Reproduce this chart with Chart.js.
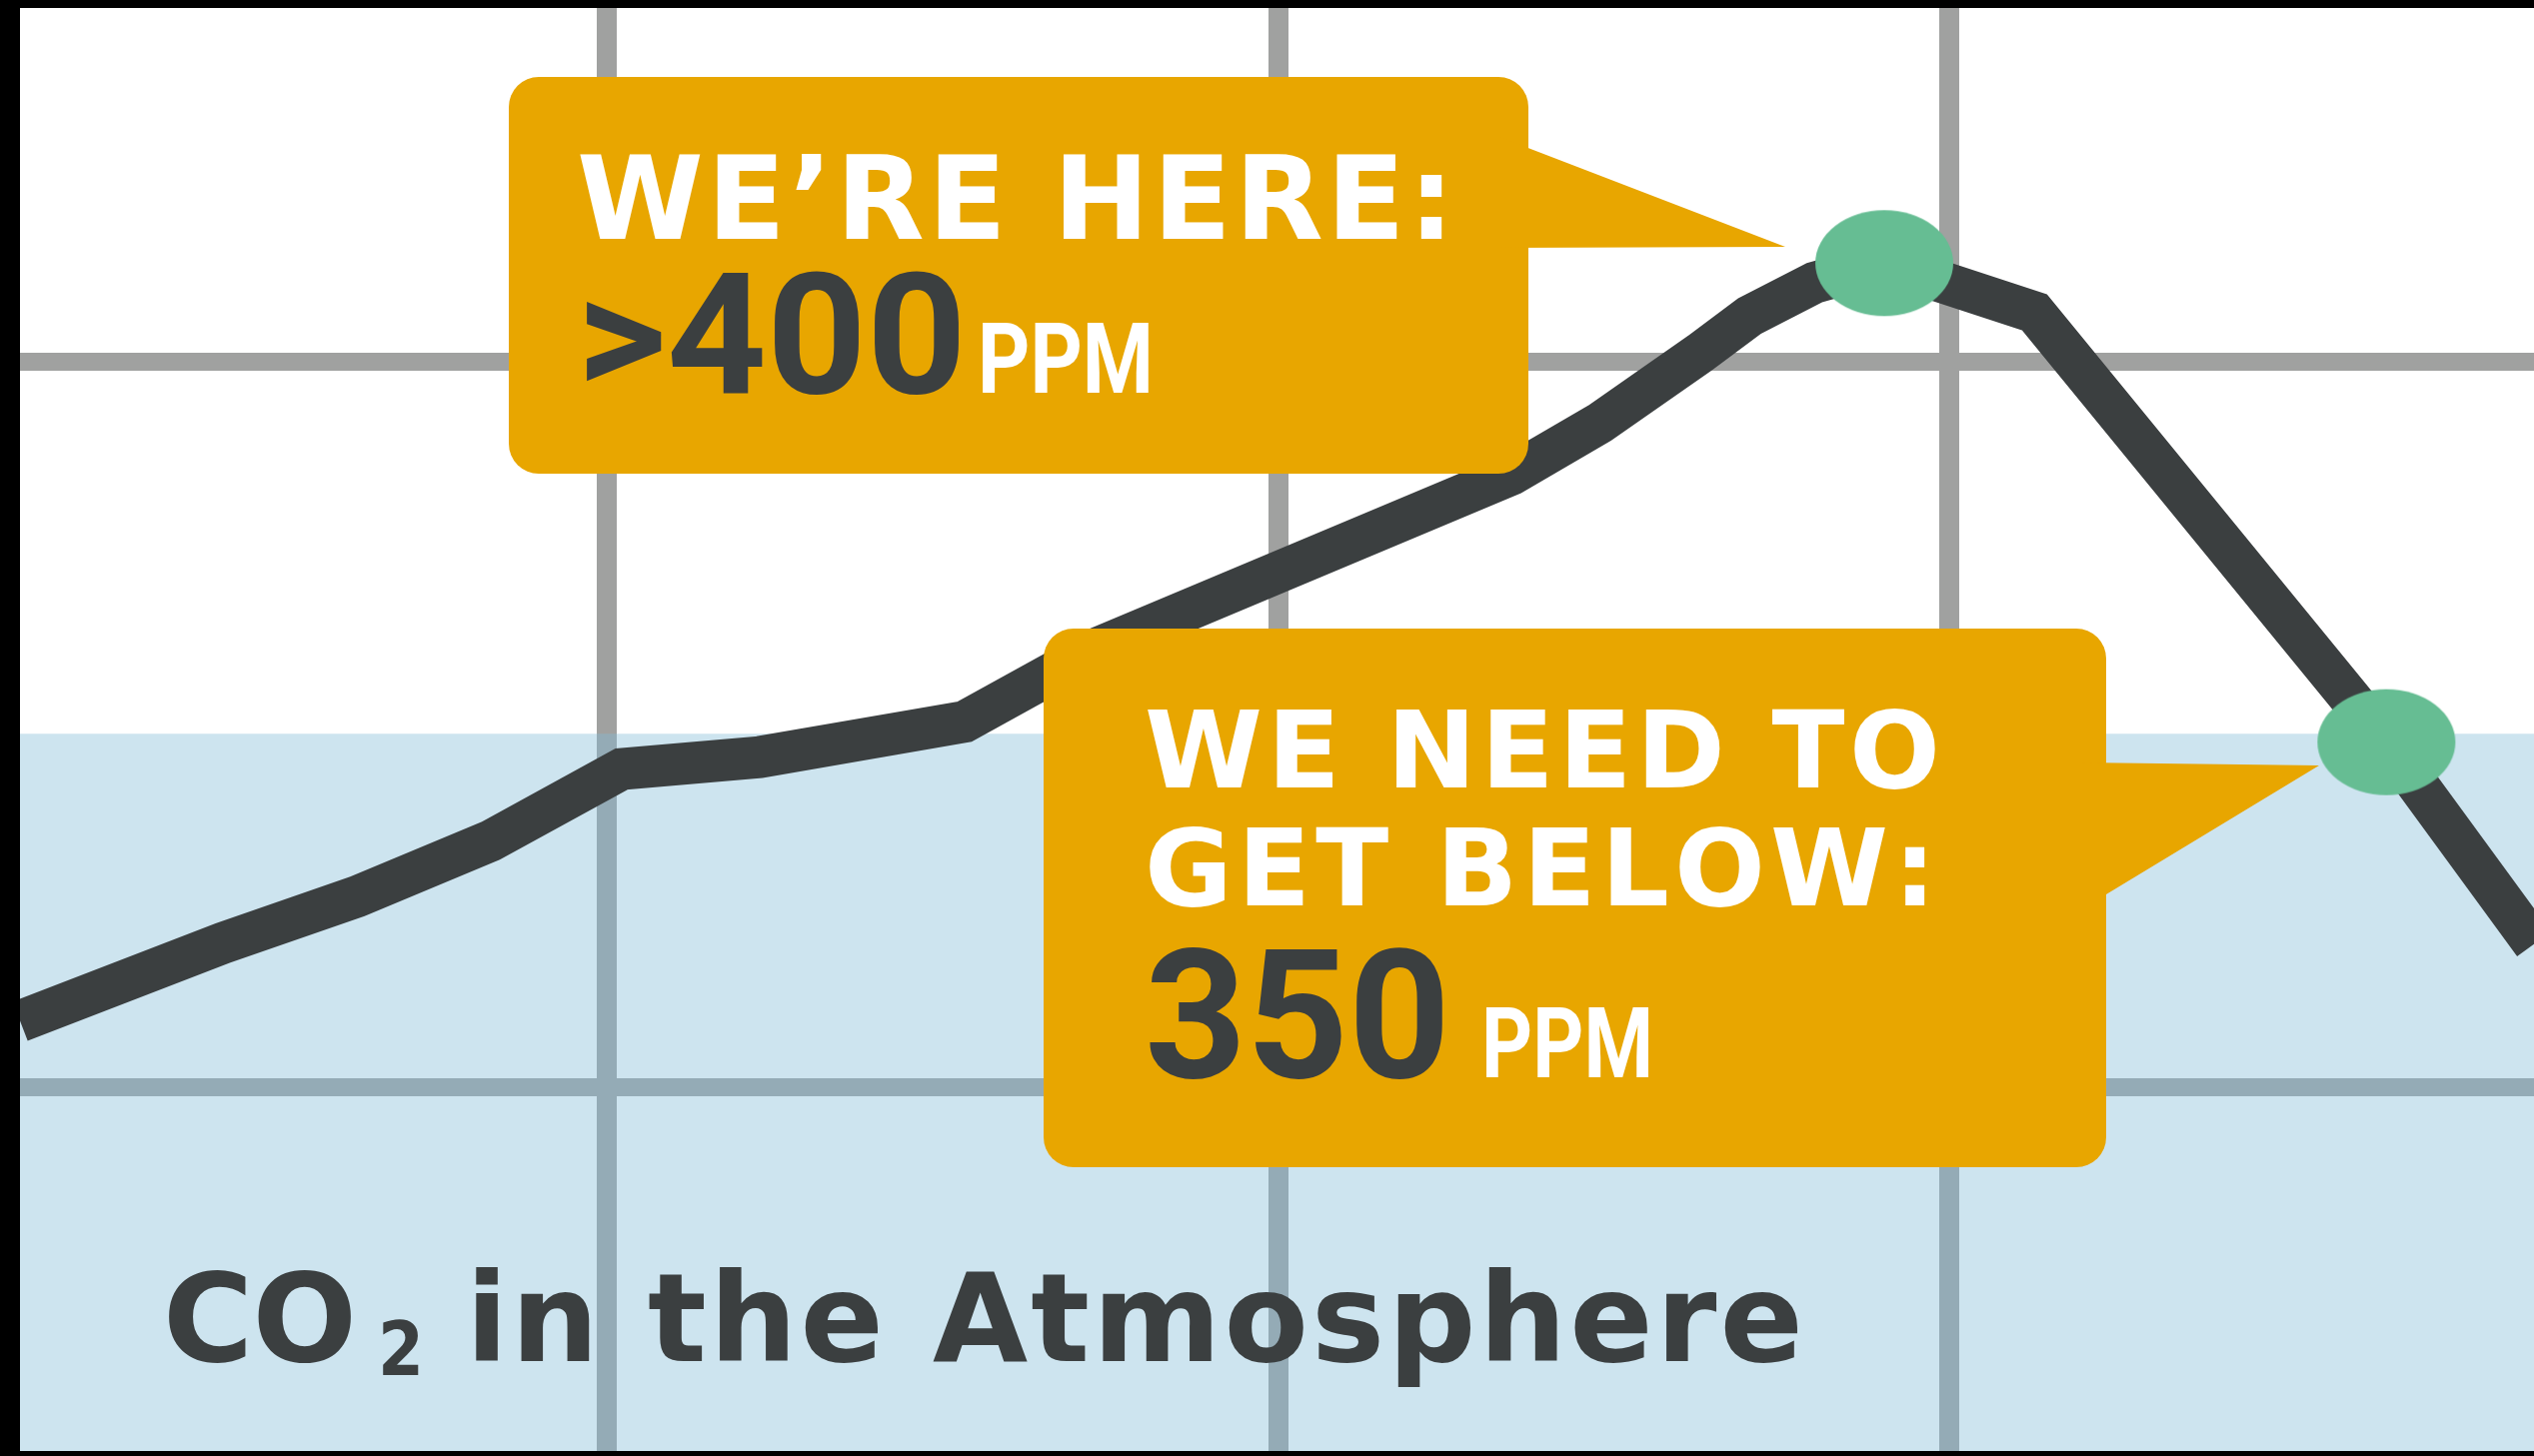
<!DOCTYPE html>
<html>
<head>
<meta charset="utf-8">
<script src="https://cdn.jsdelivr.net/npm/chart.js@4.4.1/dist/chart.umd.min.js"></script>
<style>
  html, body { margin: 0; padding: 0; background: #000; }
  canvas { display: block; }
</style>
</head>
<body>
<canvas id="co2Chart" width="2535" height="1457"></canvas>
<script>
// time position (arbitrary units, gridlines at 1, 2, 3) and CO2 in ppm
const xs  = [0.126, 0.428, 0.628, 0.827, 1.022, 1.228, 1.533, 1.734, 2.348, 2.479, 2.628, 2.702, 2.799, 2.903, 3.127, 3.651, 3.871]
const ppm = [319.1, 327.5, 332.5, 338.5, 346.2, 347.5, 351.3, 359.3, 377.9, 383.4, 390.9, 394.9, 398.5, 400.6, 395.3, 349.1, 327.4]

const markerX = [2.903, 3.651]
const markerY = [400.6, 349.1]

const safeLevel = 350
const gridX = [1, 2, 3]
const gridY = [312, 390]

const xRange = [0.1258, 3.8709]
const yRange = [272.89, 428.03]

const dark = '#3b3f40'
const orange = '#e8a600'
const green = '#66bd93'

// ellipse used as point style for the two markers
const dot = document.createElement('canvas')
dot.width = 140
dot.height = 108
let dctx = dot.getContext('2d')
dctx.fillStyle = green
dctx.beginPath()
dctx.ellipse(70, 54, 69, 53, 0, 0, Math.PI * 2)
dctx.fill()

const roundBox = (ctx, x, y, w, h, r) => {
    ctx.beginPath()
    ctx.moveTo(x + r, y)
    ctx.arcTo(x + w, y, x + w, y + h, r)
    ctx.arcTo(x + w, y + h, x, y + h, r)
    ctx.arcTo(x, y + h, x, y, r)
    ctx.arcTo(x, y, x + w, y, r)
    ctx.closePath()
    ctx.fill()
}

// spread letters so the text fills a given width
const spacedText = (ctx, text, x, y, width) => {
    let chars = text.split('')
    let widths = chars.map(c => ctx.measureText(c).width)
    let total = widths.reduce((a, b) => a + b, 0)
    let gap = chars.length > 1 ? (width - total) / (chars.length - 1) : 0
    chars.forEach((c, i) => {
        ctx.fillText(c, x, y)
        x += widths[i] + gap
    })
}

// squeeze text horizontally so it fills a given width
const squeezedText = (ctx, text, x, y, width) => {
    let w = ctx.measureText(text).width
    ctx.save()
    ctx.translate(x, y)
    ctx.scale(width / w, 1)
    ctx.fillText(text, 0, 0)
    ctx.restore()
}

const frame = {
    id: 'frame',
    beforeDraw(chart) {
        let { ctx, chartArea: a } = chart
        ctx.save()
        ctx.fillStyle = '#000'
        ctx.fillRect(0, 0, chart.width, chart.height)
        ctx.fillStyle = '#fff'
        ctx.fillRect(a.left, a.top, a.right - a.left, a.bottom - a.top)
        ctx.restore()
    }
}

const labels = {
    id: 'labels',
    afterDatasetsDraw(chart) {
        let ctx = chart.ctx
        ctx.save()
        ctx.textBaseline = 'alphabetic'

        // title
        ctx.fillStyle = dark
        ctx.font = 'bold 123px "DejaVu Sans"'
        spacedText(ctx, 'CO', 163, 1362, 194)
        ctx.font = 'bold 74px "DejaVu Sans"'
        squeezedText(ctx, '2', 378, 1376, 46)
        ctx.font = 'bold 123px "DejaVu Sans"'
        spacedText(ctx, 'in the Atmosphere', 466, 1362, 1338)

        // callout 1
        ctx.fillStyle = orange
        roundBox(ctx, 509, 77, 1020, 397, 30)
        ctx.beginPath()
        ctx.moveTo(1500, 137)
        ctx.lineTo(1786, 247)
        ctx.lineTo(1500, 248)
        ctx.closePath()
        ctx.fill()

        ctx.fillStyle = '#fff'
        ctx.font = 'bold 115px "DejaVu Sans"'
        spacedText(ctx, 'WE\u2019RE HERE:', 577, 239, 878)
        ctx.fillStyle = dark
        ctx.font = 'bold 169px Roboto'
        squeezedText(ctx, '>400', 577, 393, 390)
        ctx.fillStyle = '#fff'
        ctx.font = 'bold 98px Roboto'
        squeezedText(ctx, 'PPM', 978, 393, 176)

        // callout 2
        ctx.fillStyle = orange
        roundBox(ctx, 1044, 629, 1063, 539, 30)
        ctx.beginPath()
        ctx.moveTo(2080, 763)
        ctx.lineTo(2320, 766)
        ctx.lineTo(2107, 895)
        ctx.lineTo(2080, 895)
        ctx.closePath()
        ctx.fill()

        ctx.fillStyle = '#fff'
        ctx.font = 'bold 107px "DejaVu Sans"'
        spacedText(ctx, 'WE NEED TO', 1145, 788, 796)
        spacedText(ctx, 'GET BELOW:', 1145, 906, 792)
        ctx.fillStyle = dark
        ctx.font = 'bold 180px Roboto'
        squeezedText(ctx, '350', 1145, 1078, 306)
        ctx.fillStyle = '#fff'
        ctx.font = 'bold 98px Roboto'
        squeezedText(ctx, 'PPM', 1482, 1078, 172)

        ctx.restore()
    }
}

const ctx = document.getElementById('co2Chart')

new Chart(ctx, {
    type: 'line',
    data: {
        datasets: [
            {
                label: 'markers',
                data: markerX.map((x, i) => ({ x: x, y: markerY[i] })),
                showLine: false,
                pointStyle: dot,
                pointRadius: 54,
                clip: 0,
                order: 1
            },
            {
                label: 'CO2',
                data: xs.map((x, i) => ({ x: x, y: ppm[i] })),
                borderColor: dark,
                borderWidth: 42,
                pointRadius: 0,
                tension: 0,
                fill: false,
                clip: 0,
                order: 2
            },
            {
                label: 'safe',
                data: [{ x: xRange[0], y: safeLevel }, { x: xRange[1], y: safeLevel }],
                borderWidth: 0,
                pointRadius: 0,
                backgroundColor: 'rgba(130, 187, 214, 0.4)',
                fill: 'start',
                clip: 0,
                order: 3
            }
        ]
    },
    options: {
        responsive: false,
        animation: false,
        layout: { autoPadding: false, padding: { left: 20, top: 8, right: 0, bottom: 5 } },
        plugins: {
            legend: { display: false },
            tooltip: { enabled: false }
        },
        scales: {
            x: {
                type: 'linear',
                min: xRange[0],
                max: xRange[1],
                afterBuildTicks: (scale) => { scale.ticks = gridX.map(v => ({ value: v })) },
                ticks: { display: false },
                border: { display: false },
                grid: { color: '#a0a1a0', lineWidth: 20, drawTicks: false }
            },
            y: {
                type: 'linear',
                min: yRange[0],
                max: yRange[1],
                afterBuildTicks: (scale) => { scale.ticks = gridY.map(v => ({ value: v })) },
                ticks: { display: false },
                border: { display: false },
                grid: { color: '#a0a1a0', lineWidth: 18, drawTicks: false }
            }
        }
    },
    plugins: [frame, labels]
})
</script>
</body>
</html>
